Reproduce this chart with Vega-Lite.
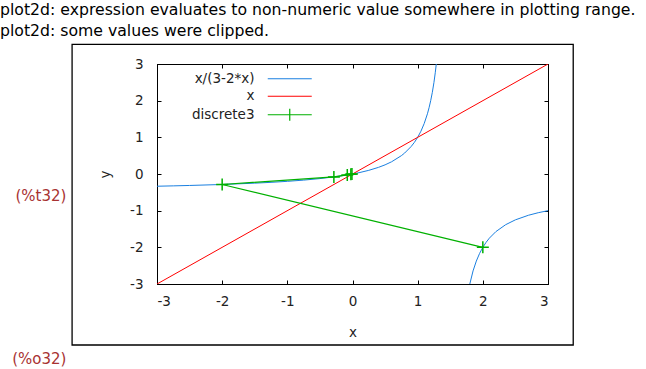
{
  "$schema": "https://vega.github.io/schema/vega-lite/v6.json",
  "width": 391,
  "height": 220,
  "autosize": {"type": "none"},
  "padding": {"left": 157, "top": 64, "right": 98, "bottom": 85},
  "background": "white",
  "title": {
    "text": ["plot2d: expression evaluates to non-numeric value somewhere in plotting range.", "plot2d: some values were clipped."],
    "anchor": "start",
    "frame": "group",
    "orient": "top",
    "dx": -157,
    "dy": -4,
    "offset": 0,
    "font": "DejaVu Sans",
    "fontSize": 15.7,
    "fontWeight": "normal",
    "lineHeight": 21,
    "color": "#000"
  },
  "datasets": {
    "curves": [
      {"series": "x/(3-2*x)", "branch": "a", "x": -3, "y": -0.3333},
      {"series": "x/(3-2*x)", "branch": "a", "x": -2.75, "y": -0.3235},
      {"series": "x/(3-2*x)", "branch": "a", "x": -2.5, "y": -0.3125},
      {"series": "x/(3-2*x)", "branch": "a", "x": -2, "y": -0.2857},
      {"series": "x/(3-2*x)", "branch": "a", "x": -1.5, "y": -0.25},
      {"series": "x/(3-2*x)", "branch": "a", "x": -1.25, "y": -0.2273},
      {"series": "x/(3-2*x)", "branch": "a", "x": -1, "y": -0.2},
      {"series": "x/(3-2*x)", "branch": "a", "x": -0.75, "y": -0.1667},
      {"series": "x/(3-2*x)", "branch": "a", "x": -0.5, "y": -0.125},
      {"series": "x/(3-2*x)", "branch": "a", "x": -0.25, "y": -0.0714},
      {"series": "x/(3-2*x)", "branch": "a", "x": 0, "y": 0},
      {"series": "x/(3-2*x)", "branch": "a", "x": 0.1, "y": 0.0357},
      {"series": "x/(3-2*x)", "branch": "a", "x": 0.25, "y": 0.1},
      {"series": "x/(3-2*x)", "branch": "a", "x": 0.4, "y": 0.1818},
      {"series": "x/(3-2*x)", "branch": "a", "x": 0.5, "y": 0.25},
      {"series": "x/(3-2*x)", "branch": "a", "x": 0.6, "y": 0.3333},
      {"series": "x/(3-2*x)", "branch": "a", "x": 0.75, "y": 0.5},
      {"series": "x/(3-2*x)", "branch": "a", "x": 0.8, "y": 0.5714},
      {"series": "x/(3-2*x)", "branch": "a", "x": 0.9, "y": 0.75},
      {"series": "x/(3-2*x)", "branch": "a", "x": 0.95, "y": 0.8636},
      {"series": "x/(3-2*x)", "branch": "a", "x": 1.0, "y": 1.0},
      {"series": "x/(3-2*x)", "branch": "a", "x": 1.05, "y": 1.1667},
      {"series": "x/(3-2*x)", "branch": "a", "x": 1.1, "y": 1.375},
      {"series": "x/(3-2*x)", "branch": "a", "x": 1.15, "y": 1.6429},
      {"series": "x/(3-2*x)", "branch": "a", "x": 1.175, "y": 1.8077},
      {"series": "x/(3-2*x)", "branch": "a", "x": 1.2, "y": 2.0},
      {"series": "x/(3-2*x)", "branch": "a", "x": 1.225, "y": 2.2273},
      {"series": "x/(3-2*x)", "branch": "a", "x": 1.25, "y": 2.5},
      {"series": "x/(3-2*x)", "branch": "a", "x": 1.27, "y": 2.7609},
      {"series": "x/(3-2*x)", "branch": "a", "x": 1.2857, "y": 3.0},
      {"series": "x/(3-2*x)", "branch": "b", "x": 1.8, "y": -3.0},
      {"series": "x/(3-2*x)", "branch": "b", "x": 1.85, "y": -2.6429},
      {"series": "x/(3-2*x)", "branch": "b", "x": 1.9, "y": -2.375},
      {"series": "x/(3-2*x)", "branch": "b", "x": 1.95, "y": -2.1667},
      {"series": "x/(3-2*x)", "branch": "b", "x": 2.0, "y": -2.0},
      {"series": "x/(3-2*x)", "branch": "b", "x": 2.05, "y": -1.8636},
      {"series": "x/(3-2*x)", "branch": "b", "x": 2.1, "y": -1.75},
      {"series": "x/(3-2*x)", "branch": "b", "x": 2.2, "y": -1.5714},
      {"series": "x/(3-2*x)", "branch": "b", "x": 2.35, "y": -1.3824},
      {"series": "x/(3-2*x)", "branch": "b", "x": 2.5, "y": -1.25},
      {"series": "x/(3-2*x)", "branch": "b", "x": 2.7, "y": -1.125},
      {"series": "x/(3-2*x)", "branch": "b", "x": 2.85, "y": -1.0556},
      {"series": "x/(3-2*x)", "branch": "b", "x": 3.0, "y": -1.0},
      {"series": "x", "branch": "r", "x": -3, "y": -3},
      {"series": "x", "branch": "r", "x": 3, "y": 3}
    ],
    "disc": [
      {"series": "discrete3", "n": 0, "x": 2, "y": -2},
      {"series": "discrete3", "n": 1, "x": -2, "y": -0.2857},
      {"series": "discrete3", "n": 2, "x": -0.2857, "y": -0.08},
      {"series": "discrete3", "n": 3, "x": -0.08, "y": -0.0253},
      {"series": "discrete3", "n": 4, "x": -0.0253, "y": -0.0083},
      {"series": "discrete3", "n": 5, "x": -0.0083, "y": -0.0028}
    ],
    "labels": [
      {"label": "(%t32)", "lx": -4.39, "ly": -0.6},
      {"label": "(%o32)", "lx": -4.39, "ly": -5.045}
    ]
  },
  "layer": [
    {
      "mark": {"type": "rule", "stroke": "#a0a0a0", "strokeWidth": 1, "strokeDash": [2, 3]},
      "encoding": {
        "x": {"datum": 0, "type": "quantitative", "scale": {"domain": [-3, 3], "nice": false, "zero": false},
          "axis": {"orient": "top", "values": [-3, -2, -1, 0, 1, 2, 3], "labels": false, "title": null, "tickSize": -4, "domainColor": "#000", "tickColor": "#000"}}
      }
    },
    {
      "mark": {"type": "rule", "stroke": "#a0a0a0", "strokeWidth": 1, "strokeDash": [2, 3]},
      "encoding": {
        "y": {"datum": 0, "type": "quantitative", "scale": {"domain": [-3, 3], "nice": false, "zero": false},
          "axis": {"orient": "right", "values": [-3, -2, -1, 0, 1, 2, 3], "labels": false, "title": null, "tickSize": -4, "domainColor": "#000", "tickColor": "#000"}}
      }
    },
    {
      "data": {"name": "curves"},
      "mark": {"type": "line", "strokeWidth": 1, "clip": true},
      "encoding": {
        "x": {"field": "x", "type": "quantitative", "scale": {"domain": [-3, 3], "nice": false, "zero": false},
          "axis": {"orient": "bottom", "values": [-3, -2, -1, 0, 1, 2, 3], "labelExpr": "'' + datum.value", "title": "x", "tickSize": -4, "labelPadding": 14, "titlePadding": 18, "domainColor": "#000", "tickColor": "#000"}},
        "y": {"field": "y", "type": "quantitative", "scale": {"domain": [-3, 3], "nice": false, "zero": false},
          "axis": {"orient": "left", "values": [-3, -2, -1, 0, 1, 2, 3], "labelExpr": "'' + datum.value", "title": "y", "tickSize": -4, "labelPadding": 18, "titlePadding": 17, "domainColor": "#000", "tickColor": "#000"}},
        "color": {"field": "series", "type": "nominal",
          "scale": {"domain": ["x/(3-2*x)", "x", "discrete3"], "range": ["#1a7fe0", "#ff0000", "#00b000"]},
          "legend": {
            "orient": "none", "legendX": 126, "legendY": 8, "title": null, "padding": 0,
            "symbolType": "M-4,0H4", "symbolSize": 121, "symbolStrokeWidth": 1.2,
            "labelAlign": "right", "labelOffset": -42, "labelFont": "DejaVu Sans", "labelFontSize": 13.5, "labelColor": "#222",
            "rowPadding": 2.5, "labelLimit": 200,
            "encode": {"symbols": {"update": {"shape": {"signal": "datum.value === 'discrete3' ? 'M-4,0H4M0,-1.1V1.1' : 'M-4,0H4'"}}}}
          }},
        "detail": {"field": "branch"}
      }
    },
    {
      "data": {"name": "disc"},
      "mark": {"type": "line", "strokeWidth": 1.2},
      "encoding": {
        "x": {"field": "x", "type": "quantitative", "scale": {"domain": [-3, 3], "nice": false, "zero": false}, "axis": null},
        "y": {"field": "y", "type": "quantitative", "scale": {"domain": [-3, 3], "nice": false, "zero": false}, "axis": null},
        "color": {"field": "series", "type": "nominal"},
        "order": {"field": "n"}
      }
    },
    {
      "data": {"name": "disc"},
      "mark": {"type": "point", "shape": "M-1,0H1M0,-1V1", "size": 144, "filled": false, "stroke": "#00b000", "strokeWidth": 1.5, "opacity": 1},
      "encoding": {
        "x": {"field": "x", "type": "quantitative", "scale": {"domain": [-3, 3], "nice": false, "zero": false}, "axis": null},
        "y": {"field": "y", "type": "quantitative", "scale": {"domain": [-3, 3], "nice": false, "zero": false}, "axis": null}
      }
    },
    {
      "data": {"values": [{"box": "frame"}]},
      "mark": {"type": "rect", "fill": null, "fillOpacity": 0, "stroke": "#000", "strokeWidth": 1.3},
      "encoding": {
        "x": {"datum": -4.303, "type": "quantitative", "scale": {"domain": [-3, 3], "nice": false, "zero": false}, "axis": null},
        "x2": {"datum": 3.387},
        "y": {"datum": 3.537, "type": "quantitative", "scale": {"domain": [-3, 3], "nice": false, "zero": false}, "axis": null},
        "y2": {"datum": -4.663}
      }
    },
    {
      "data": {"name": "labels"},
      "mark": {"type": "text", "align": "right", "baseline": "middle", "font": "DejaVu Sans", "fontSize": 15, "color": "#a83232"},
      "encoding": {
        "x": {"field": "lx", "type": "quantitative", "scale": {"domain": [-3, 3], "nice": false, "zero": false}, "axis": null},
        "y": {"field": "ly", "type": "quantitative", "scale": {"domain": [-3, 3], "nice": false, "zero": false}, "axis": null},
        "text": {"field": "label"}
      }
    }
  ],
  "resolve": {"axis": {"x": "independent", "y": "independent"}},
  "config": {
    "view": {"stroke": "#000", "strokeWidth": 1},
    "axis": {
      "grid": false,
      "labelFont": "DejaVu Sans", "labelFontSize": 13.5, "labelColor": "#222",
      "titleFont": "DejaVu Sans", "titleFontSize": 13.5, "titleFontWeight": "normal", "titleColor": "#222",
      "domainWidth": 1, "tickWidth": 1
    }
  }
}
